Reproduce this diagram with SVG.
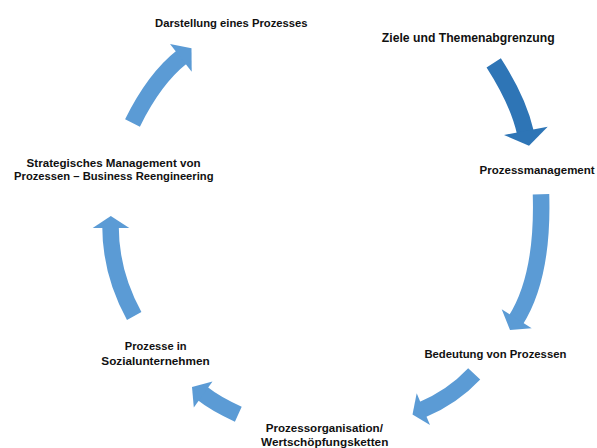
<svg xmlns="http://www.w3.org/2000/svg" width="597" height="448" viewBox="0 0 597 448">
  <style>
    .lbl { font-family: "Liberation Sans", Arial, sans-serif; font-weight: bold; font-size: 11.3px; fill: #111; text-anchor: middle; }
    .big { font-size: 12.2px; }
    .shaft { fill: none; stroke: #5B9BD5; stroke-width: 16.5; stroke-linecap: butt; }
    .head { fill: #5B9BD5; }
    .dark .shaft { stroke: #2E75B6; stroke-width: 17; }
    .dark .head { fill: #2E75B6; }
  </style>

  <rect width="597" height="448" fill="#ffffff"/>

  <!-- curved block arrows of the cycle -->
  <g id="connectors">
    <g id="arrow-ziele-prozessmanagement" class="dark">
      <path class="shaft" d="M493.7,62.8 Q518.4,101.2 525.4,132.7"/>
      <polygon class="head" points="504,135 547.7,126.7 529,145.7"/>
    </g>
    <g id="arrow-prozessmanagement-bedeutung">
      <path class="shaft" d="M541,194.2 Q543.5,276.5 515.6,320.5"/>
      <polygon class="head" points="501.7,309.3 531.7,328.3 510,330"/>
    </g>
    <g id="arrow-bedeutung-organisation">
      <path class="shaft" d="M474.2,373.8 Q452.8,396.7 421.6,410"/>
      <polygon class="head" points="416.7,393.3 430,425 412.5,414.5"/>
    </g>
    <g id="arrow-organisation-sozial">
      <path class="shaft" d="M238.3,414.2 Q215.3,403.8 201.7,392.9"/>
      <polygon class="head" points="212.5,381.5 193.8,407.5 192,387"/>
    </g>
    <g id="arrow-sozial-strategisch">
      <path class="shaft" d="M134.2,315.9 Q110.5,273 110.5,226"/>
      <polygon class="head" points="92.7,228 129.3,228 110.8,216"/>
    </g>
    <g id="arrow-strategisch-darstellung">
      <path class="shaft" d="M132.5,123 Q154.5,78.4 182.4,56.6"/>
      <polygon class="head" points="170,44 191.7,71.7 191.5,48.3"/>
    </g>
  </g>

  <!-- cycle stages -->
  <g id="node-darstellung">
    <text class="lbl" x="231.3" y="27" textLength="152.6" lengthAdjust="spacingAndGlyphs">Darstellung eines Prozesses</text>
  </g>
  <g id="node-ziele">
    <text class="lbl big" x="468.2" y="42" textLength="172.8" lengthAdjust="spacingAndGlyphs">Ziele und Themenabgrenzung</text>
  </g>
  <g id="node-prozessmanagement">
    <text class="lbl" x="537.1" y="174" textLength="115" lengthAdjust="spacingAndGlyphs">Prozessmanagement</text>
  </g>
  <g id="node-bedeutung">
    <text class="lbl" x="495.4" y="357.5" textLength="142" lengthAdjust="spacingAndGlyphs">Bedeutung von Prozessen</text>
  </g>
  <g id="node-organisation">
    <text class="lbl" x="324.3" y="432" textLength="117.3" lengthAdjust="spacingAndGlyphs">Prozessorganisation/</text>
    <text class="lbl" x="324.7" y="445.7" textLength="127.3" lengthAdjust="spacingAndGlyphs">Wertschöpfungsketten</text>
  </g>
  <g id="node-sozial">
    <text class="lbl" x="155.7" y="350" textLength="61.7" lengthAdjust="spacingAndGlyphs">Prozesse in</text>
    <text class="lbl" x="155.5" y="364.5" textLength="108.4" lengthAdjust="spacingAndGlyphs">Sozialunternehmen</text>
  </g>
  <g id="node-strategisch">
    <text class="lbl" x="113.6" y="166.7" textLength="174" lengthAdjust="spacingAndGlyphs">Strategisches Management von</text>
    <text class="lbl" x="113.8" y="180" textLength="199.5" lengthAdjust="spacingAndGlyphs">Prozessen – Business Reengineering</text>
  </g>
</svg>
